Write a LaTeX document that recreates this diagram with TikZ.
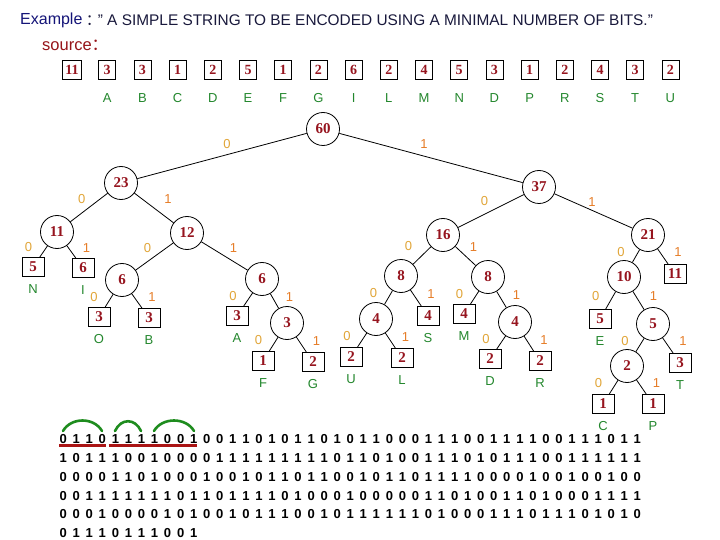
\documentclass[tikz,border=0pt]{standalone}
\usepackage{fontspec}
\setmainfont{Liberation Sans}
\newfontfamily\numfont{Liberation Serif}
\newfontfamily\cjk{Noto Sans CJK SC}
\usetikzlibrary{positioning}

\definecolor{titleblue}{RGB}{20,20,120}
\definecolor{titletext}{RGB}{25,25,60}
\definecolor{srcred}{RGB}{150,20,25}
\definecolor{numred}{RGB}{150,20,30}
\definecolor{symgreen}{RGB}{35,135,45}
\definecolor{zerocol}{RGB}{225,165,55}
\definecolor{onecol}{RGB}{230,125,40}
\definecolor{arcgreen}{RGB}{30,140,30}
\definecolor{linered}{RGB}{170,20,20}

\tikzset{
    wnode/.style={circle, draw, line width=0.8pt, minimum size=33pt, inner sep=0pt,
        text=numred, font=\numfont\bfseries\fontsize{15}{15}\selectfont},
    leafbox/.style={draw, line width=0.8pt, minimum width=22pt, minimum height=19pt,
        inner sep=0pt, text=numred, font=\numfont\bfseries\fontsize{15}{15}\selectfont},
    freqbox/.style={leafbox, minimum width=17pt, inner xsep=3pt,
        font=\numfont\bfseries\fontsize{14}{14}\selectfont},
    symb/.style={inner sep=0pt, text=symgreen, font=\fontsize{13}{13}\selectfont},
    bitzero/.style={inner sep=1pt, text=zerocol, font=\fontsize{13}{13}\selectfont},
    bitone/.style={inner sep=1pt, text=onecol, font=\fontsize{13}{13}\selectfont},
    lz/.style={bitzero, left=10pt, yshift=4pt},
    ro/.style={bitone, right=10pt, yshift=4pt},
    link/.style={line width=0.8pt},
    bits/.style={inner sep=0pt, align=left, font=\bfseries\fontsize{13}{18.8}\selectfont,
        execute at begin node={\spaceskip=5.82pt\relax}},
    hump/.style={arcgreen, line width=2.6pt, line cap=round},
    uline/.style={linered, line width=3pt}
}

\begin{document}
\begin{tikzpicture}[x=1pt, y=-1pt]
    \useasboundingbox (0,0) rectangle (720,540);
    \fill[white] (0,0) rectangle (720,540);

    % Heading
    \node[anchor=west, inner sep=0pt, text=titleblue, font=\fontsize{16}{16}\selectfont] (example) at (20,20) {Example};
    \node[right=3pt of example, inner sep=0pt, text=titletext, font=\fontsize{15.4}{15.4}\selectfont] (sentence)
        {\rlap{\cjk ：}\hspace{12pt}” A SIMPLE STRING TO BE ENCODED USING A MINIMAL NUMBER OF BITS.”};
    \node[anchor=west, inner sep=0pt, text=srcred, font=\fontsize{16.5}{16.5}\selectfont] (source) at (42,45) {source{\cjk ：}};

    % Source frequencies
    \node[freqbox] (f1) at (72,70) {11};
    \node[freqbox] (f2) at (107.2,70) {3};
    \node[freqbox] (f3) at (142.4,70) {3};
    \node[freqbox] (f4) at (177.6,70) {1};
    \node[freqbox] (f5) at (212.8,70) {2};
    \node[freqbox] (f6) at (248,70) {5};
    \node[freqbox] (f7) at (283.2,70) {1};
    \node[freqbox] (f8) at (318.4,70) {2};
    \node[freqbox] (f9) at (353.6,70) {6};
    \node[freqbox] (f10) at (388.8,70) {2};
    \node[freqbox] (f11) at (424,70) {4};
    \node[freqbox] (f12) at (459.2,70) {5};
    \node[freqbox] (f13) at (494.4,70) {3};
    \node[freqbox] (f14) at (529.6,70) {1};
    \node[freqbox] (f15) at (564.8,70) {2};
    \node[freqbox] (f16) at (600,70) {4};
    \node[freqbox] (f17) at (635.2,70) {3};
    \node[freqbox] (f18) at (670.4,70) {2};

    \node[symb, below=13pt of f2] (s2) {A};
    \node[symb, below=13pt of f3] (s3) {B};
    \node[symb, below=13pt of f4] (s4) {C};
    \node[symb, below=13pt of f5] (s5) {D};
    \node[symb, below=13pt of f6] (s6) {E};
    \node[symb, below=13pt of f7] (s7) {F};
    \node[symb, below=13pt of f8] (s8) {G};
    \node[symb, below=13pt of f9] (s9) {I};
    \node[symb, below=13pt of f10] (s10) {L};
    \node[symb, below=13pt of f11] (s11) {M};
    \node[symb, below=13pt of f12] (s12) {N};
    \node[symb, below=13pt of f13] (s13) {D};
    \node[symb, below=13pt of f14] (s14) {P};
    \node[symb, below=13pt of f15] (s15) {R};
    \node[symb, below=13pt of f16] (s16) {S};
    \node[symb, below=13pt of f17] (s17) {T};
    \node[symb, below=13pt of f18] (s18) {U};

    % Huffman tree: merged weights
    \node[wnode] (n60) at (323,129) {60};
    \node[wnode] (n23) at (121,183) {23};
    \node[wnode] (n37) at (539,187) {37};
    \node[wnode] (n11) at (57,232) {11};
    \node[wnode] (n12) at (187,233) {12};
    \node[wnode] (n16) at (443,235) {16};
    \node[wnode] (n21) at (648,235) {21};
    \node[wnode] (n6a) at (122,280) {6};
    \node[wnode] (n6b) at (262,279) {6};
    \node[wnode] (n8a) at (401,276) {8};
    \node[wnode] (n8b) at (488,277) {8};
    \node[wnode] (n10) at (624,277) {10};
    \node[wnode] (n3) at (287,323) {3};
    \node[wnode] (n4a) at (376,319) {4};
    \node[wnode] (n4b) at (515,322) {4};
    \node[wnode] (n5) at (653,324) {5};
    \node[wnode] (n2) at (627,366) {2};

    % Huffman tree: leaves
    \node[leafbox] (lN) at (33,267) {5};
    \node[leafbox] (lI) at (83,268) {6};
    \node[leafbox] (lSp) at (675,274) {11};
    \node[leafbox] (lO) at (99,317) {3};
    \node[leafbox] (lB) at (149,318) {3};
    \node[leafbox] (lA) at (237,316) {3};
    \node[leafbox] (lS) at (428,316) {4};
    \node[leafbox] (lM) at (464,314) {4};
    \node[leafbox] (lE) at (600,319) {5};
    \node[leafbox] (lF) at (263,361) {1};
    \node[leafbox] (lG) at (313,362) {2};
    \node[leafbox] (lU) at (351,357) {2};
    \node[leafbox] (lL) at (402,358) {2};
    \node[leafbox] (lD) at (490,359) {2};
    \node[leafbox] (lR) at (540,361) {2};
    \node[leafbox] (lT) at (680,363) {3};
    \node[leafbox] (lC) at (603,404) {1};
    \node[leafbox] (lP) at (653,404) {1};

    \node[symb, below=7pt of lN] (tN) {N};
    \node[symb, below=7pt of lI] (tI) {I};
    \node[symb, below=7pt of lO] (tO) {O};
    \node[symb, below=7pt of lB] (tB) {B};
    \node[symb, below=7pt of lA] (tA) {A};
    \node[symb, below=7pt of lS] (tS) {S};
    \node[symb, below=7pt of lM] (tM) {M};
    \node[symb, below=7pt of lE] (tE) {E};
    \node[symb, below=7pt of lF] (tF) {F};
    \node[symb, below=7pt of lG] (tG) {G};
    \node[symb, below=7pt of lU] (tU) {U};
    \node[symb, below=7pt of lL] (tL) {L};
    \node[symb, below=7pt of lD] (tD) {D};
    \node[symb, below=7pt of lR] (tR) {R};
    \node[symb, below=7pt of lT] (tT) {T};
    \node[symb, below=7pt of lC] (tC) {C};
    \node[symb, below=7pt of lP] (tP) {P};

    % Branches
    \draw[link] (n60) -- node[bitzero, above=6pt, xshift=5pt] {0} (n23);
    \draw[link] (n60) -- node[bitone, above=8pt, xshift=-7pt] {1} (n37);
    \draw[link] (n23) -- node[bitzero, above left=3pt] {0} (n11);
    \draw[link] (n23) -- node[bitone, above right=3pt and 9pt] {1} (n12);
    \draw[link] (n37) -- node[bitzero, above left=3.5pt and 1.5pt] {0} (n16);
    \draw[link] (n37) -- node[bitone, above=3.5pt, xshift=-1.5pt] {1} (n21);
    \draw[link] (n11) -- node[lz] {0} (lN);
    \draw[link] (n11) -- node[ro] {1} (lI);
    \draw[link] (n12) -- node[bitzero, above left=3pt] {0} (n6a);
    \draw[link] (n12) -- node[bitone, above right=2.5pt and 4pt] {1} (n6b);
    \draw[link] (n16) -- node[bitzero, above left=3pt and 8.5pt] {0} (n8a);
    \draw[link] (n16) -- node[bitone, above right=3.5pt and 3pt] {1} (n8b);
    \draw[link] (n21) -- node[lz] {0} (n10);
    \draw[link] (n21) -- node[ro] {1} (lSp);
    \draw[link] (n6a) -- node[lz] {0} (lO);
    \draw[link] (n6a) -- node[ro] {1} (lB);
    \draw[link] (n6b) -- node[lz] {0} (lA);
    \draw[link] (n6b) -- node[ro] {1} (n3);
    \draw[link] (n3) -- node[lz] {0} (lF);
    \draw[link] (n3) -- node[ro] {1} (lG);
    \draw[link] (n8a) -- node[lz] {0} (n4a);
    \draw[link] (n8a) -- node[ro] {1} (lS);
    \draw[link] (n4a) -- node[lz] {0} (lU);
    \draw[link] (n4a) -- node[ro] {1} (lL);
    \draw[link] (n8b) -- node[lz] {0} (lM);
    \draw[link] (n8b) -- node[ro] {1} (n4b);
    \draw[link] (n4b) -- node[lz] {0} (lD);
    \draw[link] (n4b) -- node[ro] {1} (lR);
    \draw[link] (n10) -- node[lz] {0} (lE);
    \draw[link] (n10) -- node[ro] {1} (n5);
    \draw[link] (n5) -- node[lz] {0} (n2);
    \draw[link] (n5) -- node[ro] {1} (lT);
    \draw[link] (n2) -- node[lz] {0} (lC);
    \draw[link] (n2) -- node[ro] {1} (lP);

    % Encoded bit string
    \node[bits, anchor=north west] (code) at (59.4,434.4) {%
        0 1 1 0 1 1 1 1 0 0 1 0 0 1 1 0 1 0 1 1 0 1 0 1 1 0 0 0 1 1 1 0 0 1 1 1 1 0 0 1 1 1 0 1 1\\
        1 0 1 1 1 0 0 1 0 0 0 0 1 1 1 1 1 1 1 1 1 0 1 1 0 1 0 0 1 1 1 0 1 0 1 1 1 0 0 1 1 1 1 1 1\\
        0 0 0 0 1 1 0 1 0 0 0 1 0 0 1 0 1 1 0 1 1 0 0 1 0 1 1 0 1 1 1 1 0 0 0 0 1 0 0 1 0 0 1 0 0\\
        0 0 1 1 1 1 1 1 1 0 1 1 0 1 1 1 1 0 1 0 0 0 1 0 0 0 0 0 1 1 0 1 0 0 1 1 0 1 0 0 0 1 1 1 1\\
        0 0 0 1 0 0 0 0 1 0 1 0 0 1 0 1 1 1 0 0 1 0 1 1 1 1 1 1 0 1 0 0 0 1 1 1 0 1 1 1 0 1 0 1 0\\
        0 1 1 1 0 1 1 1 0 0 1};

    % Codes of A, space, S marked on the first row
    \draw[hump] (63,431) .. controls (71,417) and (94,417) .. (102,431);
    \draw[hump] (115,431) .. controls (121,418) and (135,418) .. (141,431);
    \draw[hump] (154,431) .. controls (162,417) and (186,417) .. (194,431);
    \draw[uline] (59.4,445.5) -- (105.7,445.5);
    \draw[uline] (108.5,445.5) -- (197.1,445.5);
\end{tikzpicture}
\end{document}
